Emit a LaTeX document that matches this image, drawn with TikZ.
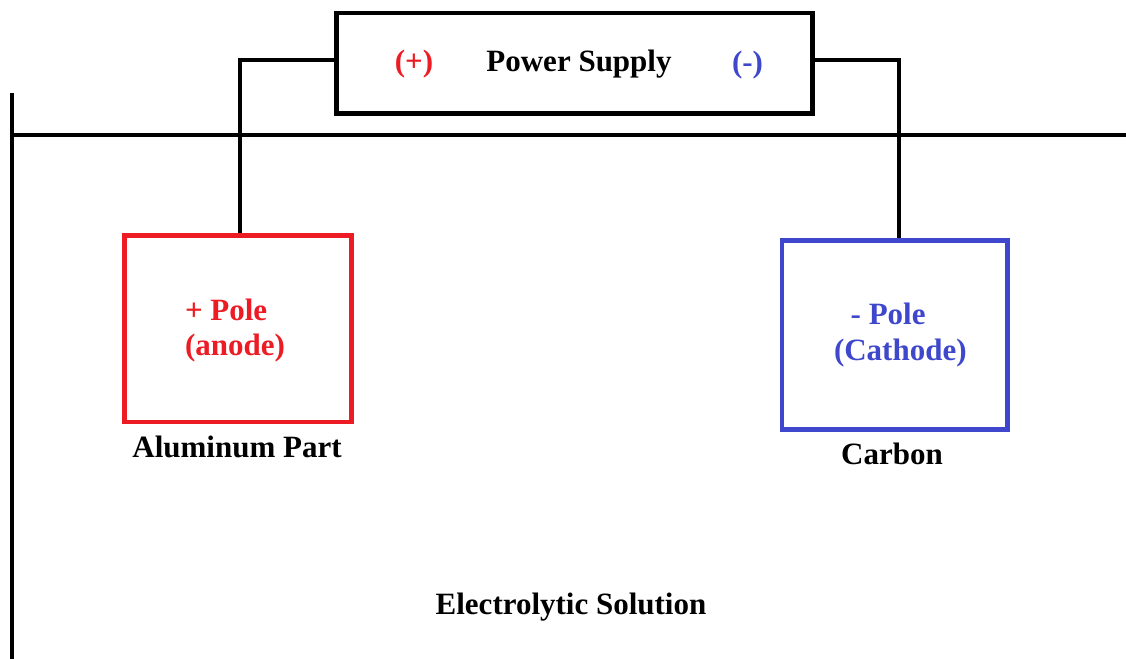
\documentclass[tikz,border=0pt]{standalone}
\usepackage{fontspec}
\setmainfont{Liberation Serif}
\definecolor{pred}{RGB}{237,28,36}
\definecolor{pblue}{RGB}{63,72,204}
\begin{document}
\begin{tikzpicture}[x=1pt,y=-1pt,
  line width=4pt,
  wire/.style={draw=black,line width=4pt},
  psbox/.style={draw=black,line width=4.5pt,minimum width=476pt,minimum height=100.5pt,inner sep=0pt},
  redbox/.style={draw=pred,line width=4.3pt,minimum width=227pt,minimum height=186.5pt,inner sep=0pt},
  bluebox/.style={draw=pblue,line width=4.5pt,minimum width=225.5pt,minimum height=189.2pt,inner sep=0pt},
  lbl/.style={font=\fontsize{31}{36}\selectfont\bfseries,inner sep=0pt,outer sep=0pt}]
\useasboundingbox (0,0) rectangle (1126,658);
\fill[white] (0,0) rectangle (1126,658);
% tank
\coordinate (tanktop) at (12,93);
\coordinate (tankbot) at (12,660);
\coordinate (surfL) at (12,135);
\coordinate (surfR) at (1126,135);
\draw[wire] (tanktop) -- (tankbot);
\draw[wire] (surfL) -- (surfR);
% boxes
\node[psbox] (ps) at (574.5,63.25) {};
\node[redbox] (anode) at (238,328.75) {};
\node[bluebox] (cathode) at (894.5,335.1) {};
% wires
\coordinate (wy) at (0,60.5);
\coordinate (lw) at (240,60.5);
\coordinate (rw) at (899,60.5);
\draw[wire] (ps.west |- wy) -- (lw) -- (lw |- anode.north);
\draw[wire] (ps.east |- wy) -- (rw) -- (rw |- cathode.north);
% labels
\node[lbl,text=pred,anchor=base] (plus) at (414,72) {(+)};
\node[lbl,anchor=base] (pstext) at (579,72) {Power Supply};
\node[lbl,text=pblue,anchor=base] (minus) at (747.5,72.5) {(-)};
\node[lbl,text=pred,anchor=base west] (apole) at (185,320) {+ Pole};
\node[lbl,text=pred,anchor=base west] (aname) at (185,355.5) {(anode)};
\node[lbl,text=pblue,anchor=base west] (cpole) at (850.7,324) {- Pole};
\node[lbl,text=pblue,anchor=base west] (cname) at (834,360.5) {(Cathode)};
\node[lbl,anchor=base] (alu) at (237,457.5) {Aluminum Part};
\node[lbl,anchor=base] (carbon) at (892,464) {Carbon};
\node[lbl,anchor=base] (elec) at (571,614) {Electrolytic Solution};
\end{tikzpicture}
\end{document}
